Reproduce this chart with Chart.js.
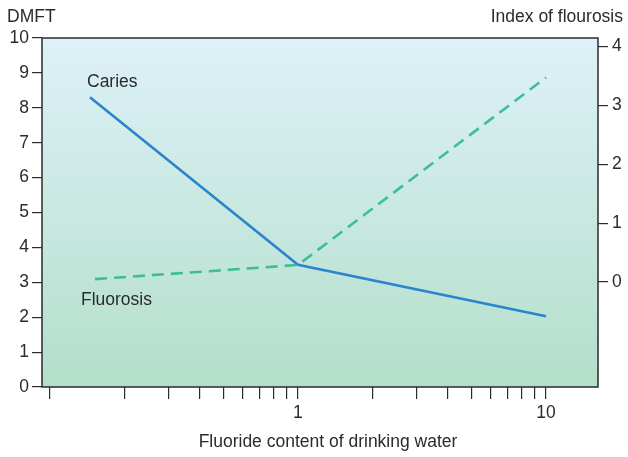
<!DOCTYPE html>
<html>
<head>
<meta charset="utf-8">
<script src="https://cdn.jsdelivr.net/npm/chart.js@4/dist/chart.umd.min.js"></script>
<style>
  html, body { margin: 0; padding: 0; background: #fff; }
  #wrap { width: 628px; height: 457px; }
</style>
</head>
<body>
<div id="wrap"><canvas id="chart" width="628" height="457"></canvas></div>
<script>
// fluoride content (ppm)
const cariesX = [0.145, 1, 10]
const cariesDMFT = [8.3, 3.5, 2.03]
const fluorosisX = [0.152, 1, 10]
const fluorosisIndex = [0.05, 0.29, 3.47]

const xTickValues = [0.1, 0.2, 0.3, 0.4, 0.5, 0.6, 0.7, 0.8, 0.9, 1, 2, 3, 4, 5, 6, 7, 8, 9, 10]
const xTickLabels = ['1', '10']
const leftTicks = [0, 1, 2, 3, 4, 5, 6, 7, 8, 9, 10]
const rightTicks = [0, 1, 2, 3, 4]

const ink = '#2b2b2b'
const font = { family: 'Liberation Sans, Arial, sans-serif', size: 17.5 }
const textFont = '17.5px "Liberation Sans", Arial, sans-serif'

// background gradient, frame and the free text labels
const decor = {
    id: 'decor',
    beforeDraw(chart) {
        const { ctx, chartArea: a } = chart
        const g = ctx.createLinearGradient(0, a.top, 0, a.bottom)
        g.addColorStop(0, '#def1f8')
        g.addColorStop(1, '#b3dfca')
        ctx.save()
        ctx.fillStyle = g
        ctx.fillRect(a.left, a.top, a.right - a.left, a.bottom - a.top)
        ctx.restore()
    },
    afterDraw(chart) {
        const { ctx, chartArea: a } = chart
        ctx.save()
        ctx.strokeStyle = ink
        ctx.lineWidth = 1.5
        ctx.strokeRect(a.left, a.top, a.right - a.left, a.bottom - a.top)
        ctx.fillStyle = ink
        ctx.font = textFont
        ctx.textBaseline = 'middle'
        ctx.textAlign = 'left'
        ctx.fillText('DMFT', 7, 17)
        ctx.fillText('Caries', 87, 82)
        ctx.fillText('Fluorosis', 81, 300)
        ctx.textAlign = 'right'
        ctx.fillText('Index of flourosis', 623, 17)
        ctx.textAlign = 'center'
        ctx.fillText('Fluoride content of drinking water', 328, 442)
        ctx.restore()
    }
}

const config = {
    type: 'line',
    data: {
        datasets: [
            {
                label: 'Caries',
                data: cariesX.map((x, i) => ({ x: x, y: cariesDMFT[i] })),
                borderColor: '#2a85cc',
                borderWidth: 2.6,
                pointRadius: 0,
                yAxisID: 'y'
            },
            {
                label: 'Fluorosis',
                data: fluorosisX.map((x, i) => ({ x: x, y: fluorosisIndex[i] })),
                borderColor: '#3cbf98',
                borderWidth: 2.6,
                borderDash: [12, 7],
                pointRadius: 0,
                yAxisID: 'y2'
            }
        ]
    },
    options: {
        responsive: false,
        animation: false,
        layout: { padding: { top: 38, left: 0, right: 0, bottom: 0 } },
        plugins: { legend: { display: false }, tooltip: { enabled: false } },
        scales: {
            x: {
                type: 'logarithmic',
                min: 0.0929,
                max: 16.2,
                afterBuildTicks: s => { s.ticks = xTickValues.map(v => ({ value: v })) },
                afterFit: s => { s.height = 70 },
                grid: { drawOnChartArea: false, tickLength: 12, color: ink, lineWidth: 1.2 },
                border: { display: false },
                ticks: {
                    autoSkip: false,
                    maxRotation: 0,
                    color: ink,
                    font: font,
                    padding: 4,
                    callback: v => xTickLabels.includes(String(v)) ? String(v) : ''
                }
            },
            y: {
                position: 'left',
                min: 0,
                max: 10,
                afterBuildTicks: s => { s.ticks = leftTicks.map(v => ({ value: v })) },
                afterFit: s => { s.width = 42 },
                grid: { drawOnChartArea: false, tickLength: 10, color: ink, lineWidth: 1.2 },
                border: { display: false },
                ticks: { color: ink, font: font, padding: 3 }
            },
            y2: {
                position: 'right',
                min: -1.78,
                max: 4.14,
                afterBuildTicks: s => { s.ticks = rightTicks.map(v => ({ value: v })) },
                afterFit: s => { s.width = 30 },
                grid: { drawOnChartArea: false, tickLength: 10, color: ink, lineWidth: 1.2 },
                border: { display: false },
                ticks: { color: ink, font: font, padding: 4 }
            }
        }
    },
    plugins: [decor]
}

const chart = new Chart(document.getElementById('chart'), config)
</script>
</body>
</html>
